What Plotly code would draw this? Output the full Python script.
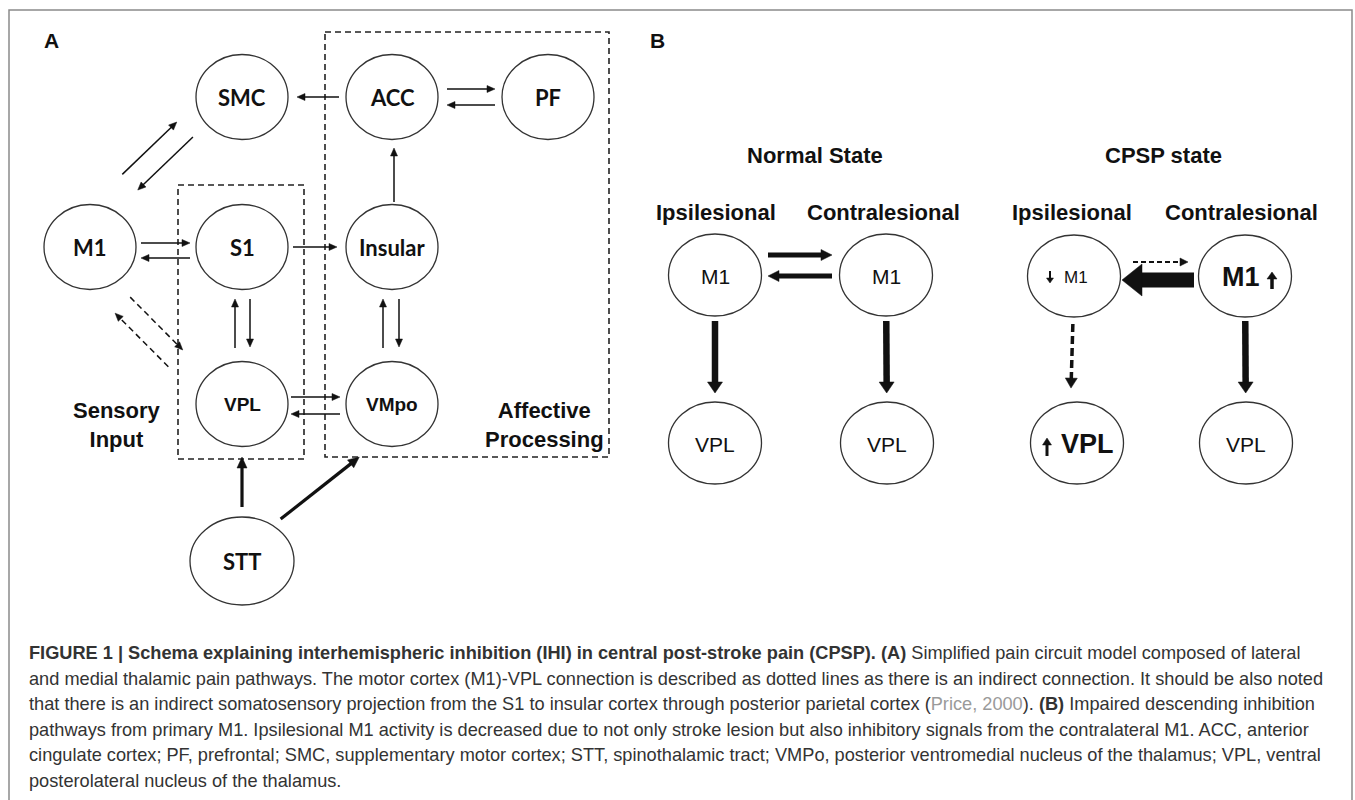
import math
import plotly.graph_objects as go

# ---------------- data ----------------
# Panel A nodes
a_ids = ["SMC", "ACC", "PF", "M1", "S1", "Insular", "VPL", "VMpo", "STT"]
a_labels = ["SMC", "ACC", "PF", "M1", "S1", "Insular", "VPL", "VMpo", "STT"]
# Panel A edges: (source, target, kind)
a_edges = [
    ("ACC", "SMC", "thin"), ("ACC", "PF", "thin"), ("PF", "ACC", "thin"),
    ("M1", "SMC", "thin"), ("SMC", "M1", "thin"),
    ("M1", "S1", "thin"), ("S1", "M1", "thin"),
    ("S1", "Insular", "thin"), ("Insular", "ACC", "thin"),
    ("VPL", "S1", "thin"), ("S1", "VPL", "thin"),
    ("VMpo", "Insular", "thin"), ("Insular", "VMpo", "thin"),
    ("VPL", "VMpo", "thin"), ("VMpo", "VPL", "thin"),
    ("M1", "VPL", "dash"), ("VPL", "M1", "dash"),
    ("STT", "VPL", "medium"), ("STT", "VMpo", "medium"),
]
a_group_labels = ["Sensory<br>Input", "Affective<br>Processing"]

# Panel B nodes
b_ids = ["nM1i", "nM1c", "cM1i", "cM1c", "nVi", "nVc", "cVi", "cVc"]
b_labels = ["M1", "M1", "M1", "M1", "VPL", "VPL", "VPL", "VPL"]
b_edges = [
    ("nM1i", "nM1c", "bold_h"), ("nM1c", "nM1i", "bold_h"),
    ("cM1i", "cM1c", "dash_small"), ("cM1c", "cM1i", "huge"),
    ("nM1i", "nVi", "bold_v"), ("nM1c", "nVc", "bold_v"),
    ("cM1i", "cVi", "dash_bold"), ("cM1c", "cVc", "bold_v"),
]
b_titles = ["Normal State", "CPSP state"]
b_sides = ["Ipsilesional", "Contralesional", "Ipsilesional", "Contralesional"]

caption_lines = [
    "<b>FIGURE 1 | Schema explaining interhemispheric inhibition (IHI) in central post-stroke pain (CPSP). (A)</b> Simplified pain circuit model composed of lateral",
    "and medial thalamic pain pathways. The motor cortex (M1)-VPL connection is described as dotted lines as there is an indirect connection. It should be also noted",
    "that there is an indirect somatosensory projection from the S1 to insular cortex through posterior parietal cortex (<span style='color:#9a9a9a'>Price, 2000</span>). <b>(B)</b> Impaired descending inhibition",
    "pathways from primary M1. Ipsilesional M1 activity is decreased due to not only stroke lesion but also inhibitory signals from the contralateral M1. ACC, anterior",
    "cingulate cortex; PF, prefrontal; SMC, supplementary motor cortex; STT, spinothalamic tract; VMPo, posterior ventromedial nucleus of the thalamus; VPL, ventral",
    "posterolateral nucleus of the thalamus.",
]

# ---------------- layout (positions / sizes / styles) ----------------
W, H = 1355, 800
a_pos = {
    "SMC": (242, 97), "ACC": (392, 97), "PF": (548, 97),
    "M1": (90, 247), "S1": (242, 247), "Insular": (392, 247),
    "VPL": (242, 404), "VMpo": (392, 404), "STT": (242, 561),
}
a_rad = {k: (46, 42.5) for k in a_pos}
a_rad["STT"] = (52, 44)
# per edge geometry: start gap, end gap, offset at start, offset at end
a_geom = [
    (53, 55, 0, 0), (55, 53, -8, -8), (53, 55, -8, -8),
    (74, 64, -29, -28), (63, 74, 6, 7),
    (51, 52, -4, -4), (52, 51, -11, -11),
    (51, 55, 0, 0), (45, 51, 2, 2),
    (56, 52, -7, -7), (52, 57, -8, -8),
    (56, 52, -9, -9), (52, 57, -7, -7),
    (49, 52, -7, -7), (52, 49, -10, -10),
    (64, 80, 6, 5), (78, 65, -27, -28),
    (54, 53, 0, 0), (57, 61, -1, 13),
]
b_pos = {
    "nM1i": (715, 275), "nM1c": (886, 275), "cM1i": (1074, 276), "cM1c": (1245, 276),
    "nVi": (715, 443), "nVc": (887, 443), "cVi": (1077, 443), "cVc": (1246, 443),
}
b_geom = [
    (53, 54, -20, -20), (54, 53, -1, -1),
    (59, 57, -14, -14), (51, 48, -4, -4),
    (46, 50, 0, 0), (46, 50, 0, 0),
    (48, 55, 2, 5), (45, 50, 0, 0),
]
# kind: line width, head length, head half width, dash
styles = {
    "thin": (1.5, 8, 3.5, None),
    "dash": (1.5, 8, 3.5, "6px,4px"),
    "medium": (3.2, 11, 5, None),
    "bold_h": (5, 11, 5.5, None),
    "bold_v": (6.5, 11, 7.5, None),
    "dash_bold": (3.5, 10, 6, "8px,4px"),
    "dash_small": (1.8, 8, 4, "5px,3px"),
    "huge": (15, 20, 16, None),
    "tiny": (2, 5, 3.5, None),
    "up": (3.5, 7, 5, None),
    "up2": (3, 7, 4.5, None),
}

INK = "#111111"
CIRCLE = "#333333"
shapes = []
annotations = []


def arrow(p0, p1, kind, color=INK):
    w, hl, hw, dash = styles[kind]
    dx, dy = p1[0] - p0[0], p1[1] - p0[1]
    L = math.hypot(dx, dy)
    ux, uy = dx / L, dy / L
    nx, ny = -uy, ux
    bx, by = p1[0] - ux * hl, p1[1] - uy * hl
    ex, ey = p1[0] - ux * hl * 0.85, p1[1] - uy * hl * 0.85
    line = dict(type="line", xref="x", yref="y", x0=p0[0], y0=p0[1], x1=ex, y1=ey,
                line=dict(color=color, width=w))
    if dash:
        line["line"]["dash"] = dash
    shapes.append(line)
    path = "M {:.2f},{:.2f} L {:.2f},{:.2f} L {:.2f},{:.2f} Z".format(
        p1[0], p1[1], bx + nx * hw, by + ny * hw, bx - nx * hw, by - ny * hw)
    shapes.append(dict(type="path", xref="x", yref="y", path=path,
                       fillcolor=color, line=dict(color=color, width=0.5)))


def edge(pos, src, dst, kind, g):
    sg, eg, os_, oe = g
    (sx, sy), (tx, ty) = pos[src], pos[dst]
    dx, dy = tx - sx, ty - sy
    L = math.hypot(dx, dy)
    ux, uy = dx / L, dy / L
    nx, ny = -uy, ux
    p0 = (sx + ux * sg + nx * os_, sy + uy * sg + ny * os_)
    p1 = (tx - ux * eg + nx * oe, ty - uy * eg + ny * oe)
    arrow(p0, p1, kind)


def ellipse(c, rx, ry, width=1.3):
    shapes.append(dict(type="circle", xref="x", yref="y",
                       x0=c[0] - rx, x1=c[0] + rx, y0=c[1] - ry, y1=c[1] + ry,
                       line=dict(color=CIRCLE, width=width), fillcolor="rgba(0,0,0,0)"))


def text(x, y, s, size, family="Liberation Sans, Arial, sans-serif", color=INK,
         xanchor="center", align="center"):
    annotations.append(dict(x=x, y=y, xref="x", yref="y", text=s, showarrow=False,
                            xanchor=xanchor, yanchor="middle", align=align,
                            font=dict(size=size, family=family, color=color)))


# outer frame
shapes.append(dict(type="rect", xref="x", yref="y", x0=9, x1=1352, y0=10, y1=806,
                   line=dict(color="#8a8a8a", width=1.5)))

# ---------------- Panel A ----------------
text(51, 40, "<b>A</b>", 21)
# dashed group boxes
shapes.append(dict(type="rect", xref="x", yref="y", x0=178, x1=304, y0=185, y1=459,
                   line=dict(color="#222", width=1.6, dash="6px,4px")))
shapes.append(dict(type="rect", xref="x", yref="y", x0=325, x1=609, y0=32, y1=457,
                   line=dict(color="#222", width=1.6, dash="6px,4px")))
LATO = "Lato, Liberation Sans, sans-serif"
for nid, lab in zip(a_ids, a_labels):
    c = a_pos[nid]
    rx, ry = a_rad[nid]
    ellipse(c, rx, ry)
    fam = "Liberation Sans, Arial, sans-serif" if nid in ("VPL", "VMpo") else LATO
    sz = 19 if nid in ("VPL", "VMpo") else 22
    text(c[0], c[1], "<b>%s</b>" % lab, sz, family=fam)
for (s, d, k), g in zip(a_edges, a_geom):
    edge(a_pos, s, d, k, g)
text(117, 425, "<b>%s</b>" % a_group_labels[0], 22)
text(544, 425, "<b>%s</b>" % a_group_labels[1], 22)

# ---------------- Panel B ----------------
text(657, 40, "<b>B</b>", 21)
text(815, 155, "<b>%s</b>" % b_titles[0], 22)
text(1163, 155, "<b>%s</b>" % b_titles[1], 22)
for x, s in zip([716, 883, 1072, 1241], b_sides):
    text(x, 212, "<b>%s</b>" % s, 22)
for nid in b_ids:
    ellipse(b_pos[nid], 46.5, 41)
for (s, d, k), g in zip(b_edges, b_geom):
    edge(b_pos, s, d, k, g)
# node labels
for nid, lab in zip(b_ids, b_labels):
    cx, cy = b_pos[nid]
    if nid == "cM1i":
        text(cx + 2, cy + 1, lab, 17)
        arrow((cx - 24, cy - 5), (cx - 24, cy + 7), "tiny")
    elif nid == "cM1c":
        text(cx - 4, cy + 1, "<b>%s</b>" % lab, 27)
        arrow((cx + 27, cy + 13), (cx + 27, cy - 4), "up")
    elif nid == "cVi":
        text(cx + 10, cy + 1, "<b>%s</b>" % lab, 27)
        arrow((cx - 30, cy + 13), (cx - 30, cy - 5), "up2")
    else:
        text(cx, cy + 1, lab, 21)

# ---------------- caption ----------------
for i, line in enumerate(caption_lines):
    text(27, 653 + i * 25.6, line, 18.2, color="#333333", xanchor="left", align="left")

# anchor trace for the axes (node centres, invisible)
all_x = [p[0] for p in a_pos.values()] + [p[0] for p in b_pos.values()]
all_y = [p[1] for p in a_pos.values()] + [p[1] for p in b_pos.values()]
fig = go.Figure(go.Scatter(x=all_x, y=all_y, mode="markers",
                           marker=dict(size=1, opacity=0), hoverinfo="skip",
                           showlegend=False))
fig.update_layout(
    width=W, height=H, margin=dict(l=0, r=0, t=0, b=0),
    paper_bgcolor="white", plot_bgcolor="white",
    xaxis=dict(range=[0, W], visible=False, fixedrange=True),
    yaxis=dict(range=[H, 0], visible=False, fixedrange=True),
    shapes=shapes, annotations=annotations, showlegend=False,
)
fig.write_html("out.html", config={"displayModeBar": False},
               post_script="document.body.style.margin='0';")
